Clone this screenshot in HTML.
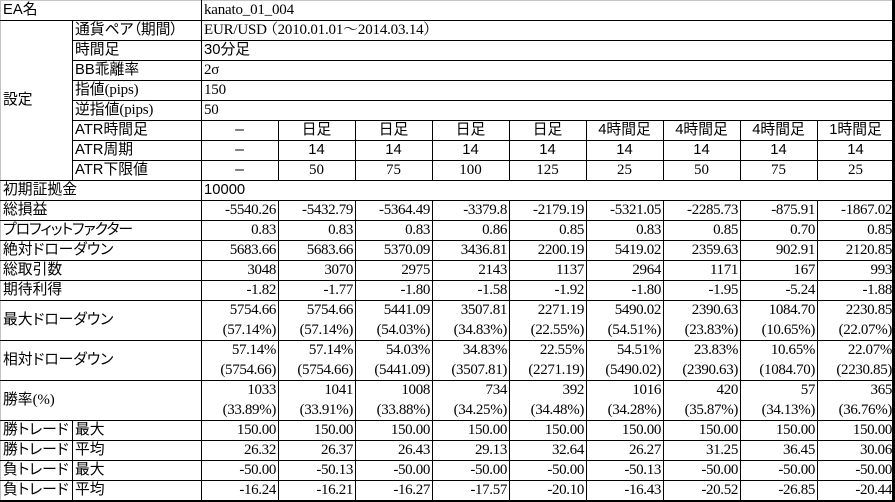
<!DOCTYPE html>
<html><head><meta charset="utf-8">
<style>
html,body{margin:0;padding:0;background:#fff;}
#w{position:relative;width:895px;height:502px;overflow:hidden;background:#fff;}
.h{position:absolute;height:1px;background:#000;}
.v{position:absolute;width:1px;background:#000;}
.j{position:absolute;height:20px;line-height:20px;white-space:nowrap;font-family:"Liberation Sans","Noto Sans CJK JP",sans-serif;font-size:14.8px;color:#000;font-feature-settings:"palt";}
.s{font-family:"Liberation Serif","Noto Serif CJK SC",serif;font-size:15px;letter-spacing:-0.2px;}
.n{position:absolute;height:20px;line-height:20px;white-space:nowrap;font-family:"Liberation Serif",serif;font-size:15px;letter-spacing:-0.35px;color:#000;width:75px;text-align:right;}
.c{position:absolute;height:20px;line-height:20px;white-space:nowrap;font-family:"Liberation Sans","Noto Sans CJK JP",sans-serif;font-size:14.8px;color:#000;width:77px;text-align:center;}
.cs{font-family:"Liberation Serif",serif;font-size:15px;}
.d{font-size:11px;}
</style></head><body><div id="w">
<div style="position:absolute;left:0;top:0;width:892px;height:1px;background:#c4c4c4"></div>
<div style="position:absolute;left:0;top:0;width:1px;height:500px;background:#c4c4c4"></div>
<div class="h" style="left:0;top:20px;width:892px"></div>
<div class="h" style="left:72px;top:40px;width:820px"></div>
<div class="h" style="left:72px;top:60px;width:820px"></div>
<div class="h" style="left:72px;top:80px;width:820px"></div>
<div class="h" style="left:72px;top:100px;width:820px"></div>
<div class="h" style="left:72px;top:120px;width:820px"></div>
<div class="h" style="left:72px;top:140px;width:820px"></div>
<div class="h" style="left:72px;top:160px;width:820px"></div>
<div class="h" style="left:0;top:180px;width:892px"></div>
<div class="h" style="left:0;top:200px;width:892px"></div>
<div class="h" style="left:0;top:220px;width:892px"></div>
<div class="h" style="left:0;top:240px;width:892px"></div>
<div class="h" style="left:0;top:260px;width:892px"></div>
<div class="h" style="left:0;top:280px;width:892px"></div>
<div class="h" style="left:0;top:300px;width:892px"></div>
<div class="h" style="left:0;top:340px;width:892px"></div>
<div class="h" style="left:0;top:380px;width:892px"></div>
<div class="h" style="left:0;top:420px;width:892px"></div>
<div class="h" style="left:0;top:440px;width:892px"></div>
<div class="h" style="left:0;top:460px;width:892px"></div>
<div class="h" style="left:0;top:480px;width:892px"></div>
<div style="position:absolute;left:0;top:500px;width:895px;height:2px;background:#000"></div>
<div style="position:absolute;left:892px;top:0;width:3px;height:502px;background:#000"></div>
<div class="v" style="left:72px;top:20px;height:160px"></div>
<div class="v" style="left:72px;top:420px;height:80px"></div>
<div class="v" style="left:201px;top:0;height:500px"></div>
<div class="v" style="left:278px;top:120px;height:60px"></div><div class="v" style="left:278px;top:200px;height:300px"></div>
<div class="v" style="left:355px;top:120px;height:60px"></div><div class="v" style="left:355px;top:200px;height:300px"></div>
<div class="v" style="left:432px;top:120px;height:60px"></div><div class="v" style="left:432px;top:200px;height:300px"></div>
<div class="v" style="left:509px;top:120px;height:60px"></div><div class="v" style="left:509px;top:200px;height:300px"></div>
<div class="v" style="left:586px;top:120px;height:60px"></div><div class="v" style="left:586px;top:200px;height:300px"></div>
<div class="v" style="left:663px;top:120px;height:60px"></div><div class="v" style="left:663px;top:200px;height:300px"></div>
<div class="v" style="left:740px;top:120px;height:60px"></div><div class="v" style="left:740px;top:200px;height:300px"></div>
<div class="v" style="left:817px;top:120px;height:60px"></div><div class="v" style="left:817px;top:200px;height:300px"></div>

<div class="j" style="left:3px;top:0">EA名</div>
<div class="j s" style="left:204px;top:0">kanato_01_004</div>
<div class="j" style="left:3px;top:90px">設定</div>
<div class="j" style="left:75px;top:20px">通貨ペア（期間）</div>
<div class="j s" style="left:204px;top:20px">EUR/USD （2010.01.01～2014.03.14）</div>
<div class="j" style="left:75px;top:40px">時間足</div>
<div class="j" style="left:204px;top:40px">30分足</div>
<div class="j" style="left:75px;top:60px">BB乖離率</div>
<div class="j s" style="left:204px;top:60px">2σ</div>
<div class="j" style="left:75px;top:80px">指値<span class="s">(pips)</span></div>
<div class="j s" style="left:204px;top:80px">150</div>
<div class="j" style="left:75px;top:100px">逆指値<span class="s">(pips)</span></div>
<div class="j s" style="left:204px;top:100px">50</div>
<div class="j" style="left:75px;top:120px">ATR時間足</div>
<div class="j" style="left:75px;top:140px">ATR周期</div>
<div class="j" style="left:75px;top:160px">ATR下限値</div>
<div class="j" style="left:3px;top:180px">初期証拠金</div>
<div class="j" style="left:204px;top:180px">10000</div>
<div class="j" style="left:3px;top:200px">総損益</div>
<div class="j" style="left:3px;top:220px;letter-spacing:-0.9px">プロフィットファクター</div>
<div class="j" style="left:3px;top:240px">絶対ドローダウン</div>
<div class="j" style="left:3px;top:260px">総取引数</div>
<div class="j" style="left:3px;top:280px">期待利得</div>
<div class="j" style="left:3px;top:310px">最大ドローダウン</div>
<div class="j" style="left:3px;top:350px">相対ドローダウン</div>
<div class="j" style="left:3px;top:390px">勝率<span class="s">(%)</span></div>
<div class="j" style="left:3px;top:420px">勝トレード</div><div class="j" style="left:75px;top:420px">最大</div>
<div class="j" style="left:3px;top:440px">勝トレード</div><div class="j" style="left:75px;top:440px">平均</div>
<div class="j" style="left:3px;top:460px">負トレード</div><div class="j" style="left:75px;top:460px">最大</div>
<div class="j" style="left:3px;top:480px">負トレード</div><div class="j" style="left:75px;top:480px">平均</div>

<div class="c" style="left:201px;top:120px"><span class="d">ー</span></div><div class="c" style="left:278px;top:120px">日足</div><div class="c" style="left:355px;top:120px">日足</div><div class="c" style="left:432px;top:120px">日足</div><div class="c" style="left:509px;top:120px">日足</div><div class="c" style="left:586px;top:120px">4時間足</div><div class="c" style="left:663px;top:120px">4時間足</div><div class="c" style="left:740px;top:120px">4時間足</div><div class="c" style="left:817px;top:120px">1時間足</div>
<div class="c" style="left:201px;top:140px"><span class="d">ー</span></div><div class="c" style="left:278px;top:140px">14</div><div class="c" style="left:355px;top:140px">14</div><div class="c" style="left:432px;top:140px">14</div><div class="c" style="left:509px;top:140px">14</div><div class="c" style="left:586px;top:140px">14</div><div class="c" style="left:663px;top:140px">14</div><div class="c" style="left:740px;top:140px">14</div><div class="c" style="left:817px;top:140px">14</div>
<div class="c" style="left:201px;top:160px"><span class="d">ー</span></div><div class="c cs" style="left:278px;top:160px">50</div><div class="c cs" style="left:355px;top:160px">75</div><div class="c cs" style="left:432px;top:160px">100</div><div class="c cs" style="left:509px;top:160px">125</div><div class="c cs" style="left:586px;top:160px">25</div><div class="c cs" style="left:663px;top:160px">50</div><div class="c cs" style="left:740px;top:160px">75</div><div class="c cs" style="left:817px;top:160px">25</div>

<div class="n" style="left:201px;top:200px">-5540.26</div><div class="n" style="left:278px;top:200px">-5432.79</div><div class="n" style="left:355px;top:200px">-5364.49</div><div class="n" style="left:432px;top:200px">-3379.8</div><div class="n" style="left:509px;top:200px">-2179.19</div><div class="n" style="left:586px;top:200px">-5321.05</div><div class="n" style="left:663px;top:200px">-2285.73</div><div class="n" style="left:740px;top:200px">-875.91</div><div class="n" style="left:817px;top:200px">-1867.02</div>
<div class="n" style="left:201px;top:220px">0.83</div><div class="n" style="left:278px;top:220px">0.83</div><div class="n" style="left:355px;top:220px">0.83</div><div class="n" style="left:432px;top:220px">0.86</div><div class="n" style="left:509px;top:220px">0.85</div><div class="n" style="left:586px;top:220px">0.83</div><div class="n" style="left:663px;top:220px">0.85</div><div class="n" style="left:740px;top:220px">0.70</div><div class="n" style="left:817px;top:220px">0.85</div>
<div class="n" style="left:201px;top:240px">5683.66</div><div class="n" style="left:278px;top:240px">5683.66</div><div class="n" style="left:355px;top:240px">5370.09</div><div class="n" style="left:432px;top:240px">3436.81</div><div class="n" style="left:509px;top:240px">2200.19</div><div class="n" style="left:586px;top:240px">5419.02</div><div class="n" style="left:663px;top:240px">2359.63</div><div class="n" style="left:740px;top:240px">902.91</div><div class="n" style="left:817px;top:240px">2120.85</div>
<div class="n" style="left:201px;top:260px">3048</div><div class="n" style="left:278px;top:260px">3070</div><div class="n" style="left:355px;top:260px">2975</div><div class="n" style="left:432px;top:260px">2143</div><div class="n" style="left:509px;top:260px">1137</div><div class="n" style="left:586px;top:260px">2964</div><div class="n" style="left:663px;top:260px">1171</div><div class="n" style="left:740px;top:260px">167</div><div class="n" style="left:817px;top:260px">993</div>
<div class="n" style="left:201px;top:280px">-1.82</div><div class="n" style="left:278px;top:280px">-1.77</div><div class="n" style="left:355px;top:280px">-1.80</div><div class="n" style="left:432px;top:280px">-1.58</div><div class="n" style="left:509px;top:280px">-1.92</div><div class="n" style="left:586px;top:280px">-1.80</div><div class="n" style="left:663px;top:280px">-1.95</div><div class="n" style="left:740px;top:280px">-5.24</div><div class="n" style="left:817px;top:280px">-1.88</div>

<div class="n" style="left:201px;top:300px">5754.66</div><div class="n" style="left:278px;top:300px">5754.66</div><div class="n" style="left:355px;top:300px">5441.09</div><div class="n" style="left:432px;top:300px">3507.81</div><div class="n" style="left:509px;top:300px">2271.19</div><div class="n" style="left:586px;top:300px">5490.02</div><div class="n" style="left:663px;top:300px">2390.63</div><div class="n" style="left:740px;top:300px">1084.70</div><div class="n" style="left:817px;top:300px">2230.85</div>
<div class="n" style="left:201px;top:320px">(57.14%)</div><div class="n" style="left:278px;top:320px">(57.14%)</div><div class="n" style="left:355px;top:320px">(54.03%)</div><div class="n" style="left:432px;top:320px">(34.83%)</div><div class="n" style="left:509px;top:320px">(22.55%)</div><div class="n" style="left:586px;top:320px">(54.51%)</div><div class="n" style="left:663px;top:320px">(23.83%)</div><div class="n" style="left:740px;top:320px">(10.65%)</div><div class="n" style="left:817px;top:320px">(22.07%)</div>

<div class="n" style="left:201px;top:340px">57.14%</div><div class="n" style="left:278px;top:340px">57.14%</div><div class="n" style="left:355px;top:340px">54.03%</div><div class="n" style="left:432px;top:340px">34.83%</div><div class="n" style="left:509px;top:340px">22.55%</div><div class="n" style="left:586px;top:340px">54.51%</div><div class="n" style="left:663px;top:340px">23.83%</div><div class="n" style="left:740px;top:340px">10.65%</div><div class="n" style="left:817px;top:340px">22.07%</div>
<div class="n" style="left:201px;top:360px">(5754.66)</div><div class="n" style="left:278px;top:360px">(5754.66)</div><div class="n" style="left:355px;top:360px">(5441.09)</div><div class="n" style="left:432px;top:360px">(3507.81)</div><div class="n" style="left:509px;top:360px">(2271.19)</div><div class="n" style="left:586px;top:360px">(5490.02)</div><div class="n" style="left:663px;top:360px">(2390.63)</div><div class="n" style="left:740px;top:360px">(1084.70)</div><div class="n" style="left:817px;top:360px">(2230.85)</div>

<div class="n" style="left:201px;top:380px">1033</div><div class="n" style="left:278px;top:380px">1041</div><div class="n" style="left:355px;top:380px">1008</div><div class="n" style="left:432px;top:380px">734</div><div class="n" style="left:509px;top:380px">392</div><div class="n" style="left:586px;top:380px">1016</div><div class="n" style="left:663px;top:380px">420</div><div class="n" style="left:740px;top:380px">57</div><div class="n" style="left:817px;top:380px">365</div>
<div class="n" style="left:201px;top:400px">(33.89%)</div><div class="n" style="left:278px;top:400px">(33.91%)</div><div class="n" style="left:355px;top:400px">(33.88%)</div><div class="n" style="left:432px;top:400px">(34.25%)</div><div class="n" style="left:509px;top:400px">(34.48%)</div><div class="n" style="left:586px;top:400px">(34.28%)</div><div class="n" style="left:663px;top:400px">(35.87%)</div><div class="n" style="left:740px;top:400px">(34.13%)</div><div class="n" style="left:817px;top:400px">(36.76%)</div>

<div class="n" style="left:201px;top:420px">150.00</div><div class="n" style="left:278px;top:420px">150.00</div><div class="n" style="left:355px;top:420px">150.00</div><div class="n" style="left:432px;top:420px">150.00</div><div class="n" style="left:509px;top:420px">150.00</div><div class="n" style="left:586px;top:420px">150.00</div><div class="n" style="left:663px;top:420px">150.00</div><div class="n" style="left:740px;top:420px">150.00</div><div class="n" style="left:817px;top:420px">150.00</div>
<div class="n" style="left:201px;top:440px">26.32</div><div class="n" style="left:278px;top:440px">26.37</div><div class="n" style="left:355px;top:440px">26.43</div><div class="n" style="left:432px;top:440px">29.13</div><div class="n" style="left:509px;top:440px">32.64</div><div class="n" style="left:586px;top:440px">26.27</div><div class="n" style="left:663px;top:440px">31.25</div><div class="n" style="left:740px;top:440px">36.45</div><div class="n" style="left:817px;top:440px">30.06</div>
<div class="n" style="left:201px;top:460px">-50.00</div><div class="n" style="left:278px;top:460px">-50.13</div><div class="n" style="left:355px;top:460px">-50.00</div><div class="n" style="left:432px;top:460px">-50.00</div><div class="n" style="left:509px;top:460px">-50.00</div><div class="n" style="left:586px;top:460px">-50.13</div><div class="n" style="left:663px;top:460px">-50.00</div><div class="n" style="left:740px;top:460px">-50.00</div><div class="n" style="left:817px;top:460px">-50.00</div>
<div class="n" style="left:201px;top:480px">-16.24</div><div class="n" style="left:278px;top:480px">-16.21</div><div class="n" style="left:355px;top:480px">-16.27</div><div class="n" style="left:432px;top:480px">-17.57</div><div class="n" style="left:509px;top:480px">-20.10</div><div class="n" style="left:586px;top:480px">-16.43</div><div class="n" style="left:663px;top:480px">-20.52</div><div class="n" style="left:740px;top:480px">-26.85</div><div class="n" style="left:817px;top:480px">-20.44</div>
</div></body></html>
